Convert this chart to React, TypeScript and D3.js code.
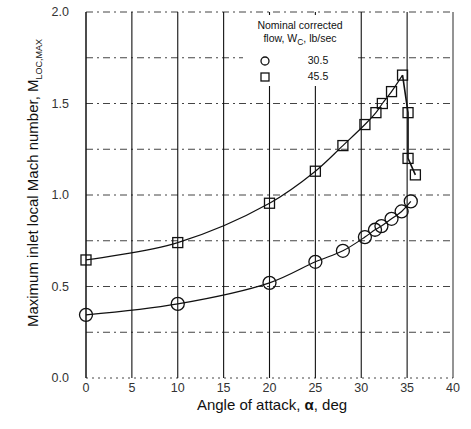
import React from "react";
import * as d3 from "d3";

const xTicks = [0, 5, 10, 15, 20, 25, 30, 35, 40];
const yTicks = [0.0, 0.5, 1.0, 1.5, 2.0];
const yGrid = [0.25, 0.5, 0.75, 1.0, 1.25, 1.5, 1.75, 2.0, 0.0];

const alpha30 = [0, 10, 20, 25, 28, 30.4, 31.5, 32.2, 33.3, 34.4, 35.4];
const mach30 = [0.345, 0.405, 0.52, 0.635, 0.695, 0.77, 0.81, 0.83, 0.87, 0.91, 0.965];

const alpha45 = [0, 10, 20, 25, 28, 30.4, 31.6, 32.3, 33.3, 34.5, 35.1, 35.1, 35.9];
const mach45 = [0.645, 0.74, 0.955, 1.13, 1.27, 1.385, 1.45, 1.5, 1.565, 1.655, 1.45, 1.2, 1.11];

const W = 471;
const H = 429;
const FONT = "'Liberation Sans', Arial, Helvetica, sans-serif";

export default function App() {
  const x = d3.scaleLinear().domain([0, 40]).range([86, 453]);
  const y = d3.scaleLinear().domain([0, 2]).range([378, 12]);

  const line = d3
    .line<[number, number]>()
    .x((d) => x(d[0]))
    .y((d) => y(d[1]))
    .curve(d3.curveCatmullRom.alpha(0.5));

  const s30: [number, number][] = alpha30.map((a, i) => [a, mach30[i]]);
  const s45: [number, number][] = alpha45.map((a, i) => [a, mach45[i]]);
  const s45up = s45.slice(0, 10);
  const s45down = s45.slice(9);
  const lineLin = d3
    .line<[number, number]>()
    .x((d) => x(d[0]))
    .y((d) => y(d[1]));

  const sq = 10;
  const r = 6.5;

  return (
    <svg
      width={W}
      height={H}
      style={{ position: "absolute", left: 0, top: 0, background: "#fff" }}
      fontFamily={FONT}
    >
      <rect width={W} height={H} fill="#fff" />
      {/* horizontal dash-dot grid */}
      {yGrid.map((v) => (
        <line
          key={"h" + v}
          x1={x(0)}
          x2={x(40)}
          y1={y(v)}
          y2={y(v)}
          stroke="#444"
          strokeWidth={1}
          strokeDasharray={v === 0 ? "2,4" : "7,4,2,4"}
        />
      ))}
      {/* vertical solid grid */}
      {xTicks.map((v) => (
        <line
          key={"v" + v}
          x1={x(v)}
          x2={x(v)}
          y1={y(2)}
          y2={y(0)}
          stroke="#111"
          strokeWidth={v === 0 ? 1.5 : v === 40 ? 0.9 : 1.1}
        />
      ))}
      {/* legend box */}
      <rect x={243} y={15} width={114} height={71} fill="#fff" />
      <g fontSize={10.5} fill="#111" textAnchor="middle">
        <text x={300} y={29}>Nominal corrected</text>
        <text x={300} y={42}>
          flow, W<tspan fontSize={8.5} dy={3}>C</tspan>
          <tspan dy={-3}>, lb/sec</tspan>
        </text>
      </g>
      <circle cx={265} cy={61} r={4} fill="none" stroke="#111" strokeWidth={1.3} />
      <rect x={261} y={73} width={8} height={8} fill="none" stroke="#111" strokeWidth={1.3} />
      <g fontSize={10.5} fill="#111" textAnchor="middle">
        <text x={318} y={64}>30.5</text>
        <text x={318} y={80}>45.5</text>
      </g>

      {/* series lines */}
      <path d={line(s30) || ""} fill="none" stroke="#111" strokeWidth={1.2} />
      <path d={line(s45up) || ""} fill="none" stroke="#111" strokeWidth={1.2} />
      <path d={lineLin(s45down) || ""} fill="none" stroke="#111" strokeWidth={1.6} />

      {/* markers */}
      {s30.map((d, i) => (
        <circle
          key={"c" + i}
          cx={x(d[0])}
          cy={y(d[1])}
          r={r}
          fill="none"
          stroke="#111"
          strokeWidth={1.3}
        />
      ))}
      {s45.map((d, i) => (
        <rect
          key={"s" + i}
          x={x(d[0]) - sq / 2}
          y={y(d[1]) - sq / 2}
          width={sq}
          height={sq}
          fill="none"
          stroke="#111"
          strokeWidth={1.3}
        />
      ))}

      {/* tick labels */}
      <g fontSize={12.5} fill="#333" textAnchor="middle">
        {xTicks.map((v) => (
          <text key={"xt" + v} x={x(v)} y={392}>
            {v}
          </text>
        ))}
      </g>
      <g fontSize={12.5} fill="#333" textAnchor="end">
        {yTicks.map((v) => (
          <text key={"yt" + v} x={69} y={y(v) + 4}>
            {v.toFixed(1)}
          </text>
        ))}
      </g>

      {/* axis titles */}
      <text x={272} y={410} fontSize={15} fill="#111" textAnchor="middle">
        Angle of attack,
        <tspan fontWeight="bold"> α</tspan>, deg
      </text>
      <text
        transform="translate(38,183) rotate(-90)"
        fontSize={15}
        fill="#111"
        textAnchor="middle"
      >
        Maximum inlet local Mach number, M
        <tspan fontSize={9} dy={4}>LOC,MAX</tspan>
      </text>
    </svg>
  );
}
